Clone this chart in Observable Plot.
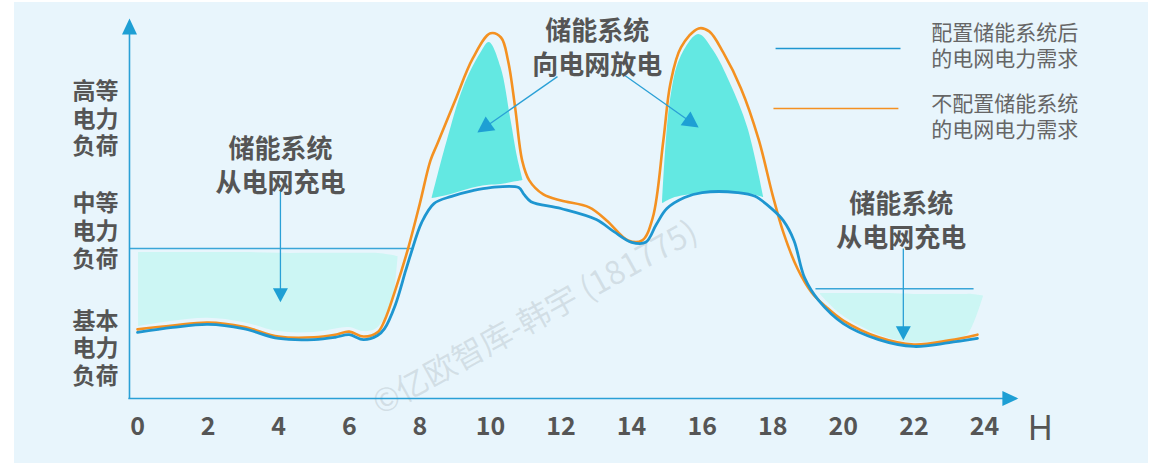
<!DOCTYPE html>
<html><head><meta charset="utf-8">
<script src="https://cdn.jsdelivr.net/npm/d3@7"></script>
<script src="https://cdn.jsdelivr.net/npm/@observablehq/plot@0.6"></script>
<style>
html,body{margin:0;padding:0;background:#fff;}
#wrap{position:relative;width:1160px;height:465px;overflow:hidden;}
#panel{position:absolute;left:14px;top:2px;width:1134px;height:461px;background:#e8f5fc;}
#chart{position:absolute;left:0;top:0;}
</style></head><body>
<div id="wrap"><div id="panel"></div><div id="chart"></div></div>
<script>
// ---------- data (load in % of axis height, hours 0-24) ----------
const xTicks = [0,2,4,6,8,10,12,14,16,18,20,22,24];
const yTickValues = [73.8, 44.3, 13.4];
const yTickLabels = ["高等\n电力\n负荷", "中等\n电力\n负荷", "基本\n电力\n负荷"];

// grid demand after storage (blue)
const blueH = [0,1,2,3,4,5,5.6,6,6.4,6.8,7.0,7.3,7.6,7.75,8.05,8.4,8.9,9.5,10,10.8,10.95,11.15,12,13,13.5,14,14.4,14.7,15,15.5,16,17,17.5,18,18.3,18.6,18.9,19.3,20,21,22,23,23.8];
const blueLoad = [17.4,18.7,19.5,18.4,15.8,15.5,16.1,16.8,15.5,16.6,18.4,24.5,33.7,38.2,46.3,51.3,53.2,54.7,55.5,55.5,53.7,51.8,50.0,47.1,43.9,41.1,41.1,45.8,50.0,52.9,54.2,54.2,53.2,49.7,46.8,41.6,31.8,25.8,19.7,15.5,13.7,14.7,15.8];

// grid demand without storage (orange)
const orangeH = [0,1,2,3,4,5,5.6,6,6.4,6.8,7.0,7.3,7.65,8.0,8.3,8.5,9.0,9.5,10.0,10.3,10.5,10.7,10.9,11.1,11.5,12,12.8,13.3,13.9,14.3,14.6,14.9,15.1,15.4,15.9,16.2,16.6,17.1,17.6,18.0,18.3,18.7,19.1,19.5,20,21,22,23,23.8];
const orangeLoad = [18.2,19.2,20.0,18.9,16.3,16.1,16.8,17.6,16.3,17.4,20.5,28.4,38.9,51.3,62.6,67.1,78.4,89.5,96.1,95.0,88.9,76.6,62.6,57.4,53.7,52.1,50.3,46.8,41.6,41.6,47.6,67.9,82.9,92.4,97.4,96.6,91.0,81.6,68.2,53.4,43.7,34.2,27.9,24.2,20.5,16.1,14.2,15.3,16.8];

// charging areas (light)
const chargeL_H  = [0.03,1,2,3,4,5,6,6.4,6.75,7.05,7.25,7.35,7.38];
const chargeL_lo = [18.9,20.3,21.1,20.0,17.6,17.4,18.7,17.6,18.2,21.8,26.6,33.7,36.8];
const chargeL_hi = [38.4,38.4,38.4,38.4,38.2,38.2,38.2,38.2,38.2,37.9,37.6,37.4,37.4];
const chargeR_H  = [19.35,19.9,20.55,21.3,22.0,22.95,23.5,23.65,23.82,23.97];
const chargeR_lo = [27.4,22.4,18.7,15.8,14.7,15.3,16.6,18.7,22.6,26.8];
const chargeR_hi = [27.6,27.6,27.6,27.6,27.4,27.4,27.4,27.4,27.2,27.0];

// discharging areas (teal)
const disL_H  = [8.35,8.78,9.24,9.72,9.97,10.3,10.57,10.77,10.92];
const disL_lo = [52.6,53.4,54.7,55.8,56.1,56.3,56.8,57.1,57.4];
const disL_hi = [52.8,67.9,81.8,90.8,93.7,87.1,73.9,63.4,57.6];
const disR_H  = [14.88,15.1,15.39,15.9,16.32,16.8,17.29,17.74];
const disR_lo = [51.3,52.4,53.2,53.9,54.2,54.2,53.9,52.9];
const disR_hi = [51.5,78.4,89.7,95.8,91.6,82.9,71.3,53.1];

// reference lines (charging thresholds)
const thresholds = [{x1:-0.227, x2:7.82, y:39.5}, {x1:19.21, x2:23.69, y:28.9}];

// annotation arrows: start (x1,y1) -> tip (x2,y2)
const arrowsData = [
  {x1:4.05,  y1:54.7, x2:4.05,  y2:25.3},
  {x1:21.7,  y1:39.5, x2:21.7,  y2:15.3},
  {x1:11.90, y1:84.7, x2:9.63,  y2:70.0},
  {x1:13.69, y1:85.8, x2:15.90, y2:71.3}
];
const axesData = [
  {x1:-0.227, y1:0, x2:-0.227, y2:100},
  {x1:-0.26,  y1:0, x2:24.96,  y2:0}
];

const annotations = [
  {x:4.05,  y:61.7, text:"储能系统\n从电网充电"},
  {x:13.03, y:92.8, text:"储能系统\n向电网放电"},
  {x:21.64, y:47.2, text:"储能系统\n从电网充电"}
];
const legendItems = [
  {x1:18.08, x2:21.62, y:92.1, tx:22.49, ty:93.2, color:"#1e96d0", text:"配置储能系统后\n的电网电力需求"},
  {x1:18.02, x2:21.56, y:76.3, tx:22.49, ty:74.5, color:"#f49121", text:"不配置储能系统\n的电网电力需求"}
];
const watermark = [{x:11.27, y:21.1, text:"©亿欧智库-韩宇 (181775)"}];
const unitLabel = [{x:25.58, y:-8.0, text:"H"}];

// ---------- build ----------
const W=1160, H=465, mL=137, mR=176, mT=18, mB=67;
const sx = d3.scaleLinear([0,24],[mL, W-mR]);
const sy = d3.scaleLinear([0,100],[H-mB, mT]);

const zip3 = (h, lo, hi) => h.map((d,i)=>({h:d, lo:lo[i], hi:hi[i]}));
const blue = blueH.map((h,i)=>({h, v:blueLoad[i]}));
const orange = orangeH.map((h,i)=>({h, v:orangeLoad[i]}));

function headGeom(a, len, wid, id) {
  const tx=sx(a.x2), ty=sy(a.y2), fx=sx(a.x1), fy=sy(a.y1);
  const d=Math.hypot(tx-fx, ty-fy), ux=(tx-fx)/d, uy=(ty-fy)/d;
  const bx=tx-ux*len, by=ty-uy*len, px=-uy, py=ux;
  const tri=[[tx,ty],[bx+px*wid/2,by+py*wid/2],[bx-px*wid/2,by-py*wid/2],[tx,ty]]
    .map(([X,Y])=>({id, x:sx.invert(X), y:sy.invert(Y)}));
  const shaft={x1:a.x1, y1:a.y1, x2:sx.invert(bx+ux*2), y2:sy.invert(by+uy*2)};
  return {tri, shaft};
}
const annHeads = arrowsData.map((a,i)=>headGeom(a, i<2?14:16, i<2?15:17, "a"+i));
const axHeads = axesData.map((a,i)=>headGeom(a, 16, 15, "x"+i));

const FONT = '"Noto Sans CJK SC", "Noto Sans", sans-serif';
const AX = "#2aa0d6";

const chart = Plot.plot({
  width: W, height: H,
  marginLeft: mL, marginRight: mR, marginTop: mT, marginBottom: mB,
  x: {domain:[0,24], axis:null},
  y: {domain:[0,100], axis:null},
  style: {background:"transparent", fontFamily: FONT, overflow:"visible"},
  marks: [
    Plot.text(watermark, {x:"x", y:"y", text:"text", rotate:-29, fontSize:32, fill:"#9aa6ad", fillOpacity:0.28}),
    Plot.areaY(zip3(chargeL_H, chargeL_lo, chargeL_hi), {x:"h", y1:"lo", y2:"hi", fill:"#ccf6f4", curve:"catmull-rom"}),
    Plot.areaY(zip3(chargeR_H, chargeR_lo, chargeR_hi), {x:"h", y1:"lo", y2:"hi", fill:"#ccf6f4", curve:"catmull-rom"}),
    Plot.areaY(zip3(disL_H, disL_lo, disL_hi), {x:"h", y1:"lo", y2:"hi", fill:"#63e8e2", curve:"catmull-rom"}),
    Plot.areaY(zip3(disR_H, disR_lo, disR_hi), {x:"h", y1:"lo", y2:"hi", fill:"#63e8e2", curve:"catmull-rom"}),
    Plot.link(thresholds, {x1:"x1", x2:"x2", y1:"y", y2:"y", stroke:"#3aa6d8", strokeWidth:1.5}),
    Plot.line(orange, {x:"h", y:"v", stroke:"#f49121", strokeWidth:2.6, curve:"catmull-rom"}),
    Plot.line(blue, {x:"h", y:"v", stroke:"#1e96d0", strokeWidth:2.8, curve:"catmull-rom"}),
    // axes lines + heads
    Plot.link(axHeads.map(d=>d.shaft), {x1:"x1", y1:"y1", x2:"x2", y2:"y2", stroke:AX, strokeWidth:1.6}),
    Plot.line(axHeads.flatMap(d=>d.tri), {x:"x", y:"y", z:"id", fill:"#1e9fd4", stroke:"none"}),
    // annotation arrows
    Plot.link(annHeads.map(d=>d.shaft), {x1:"x1", y1:"y1", x2:"x2", y2:"y2", stroke:"#2aa0d6", strokeWidth:1.3}),
    Plot.line(annHeads.flatMap(d=>d.tri), {x:"x", y:"y", z:"id", fill:"#1e9fd4", stroke:"none"}),
    Plot.axisX({ticks:xTicks, tickSize:0, tickPadding:19, fontSize:25, fontWeight:600, fill:"#555", label:null}),
    Plot.axisY({ticks:yTickValues, tickFormat:d=>yTickLabels[yTickValues.indexOf(d)], tickSize:0, tickPadding:19, fontSize:23, fontWeight:"bold", fill:"#555", label:null, lineHeight:1.2}),
    Plot.text(unitLabel, {x:"x", y:"y", text:"text", fontSize:34, fill:"#555", fontFamily:'"Noto Sans", sans-serif'}),
    Plot.text(annotations, {x:"x", y:"y", text:"text", fontSize:26, fontWeight:"bold", fill:"#555", lineHeight:1.3}),
    Plot.link(legendItems, {x1:"x1", x2:"x2", y1:"y", y2:"y", stroke:"color", strokeWidth:1.6}),
    Plot.text(legendItems, {x:"tx", y:"ty", text:"text", textAnchor:"start", fontSize:21, fill:"#666", lineHeight:1.24})
  ]
});
document.getElementById("chart").appendChild(chart);
</script>
</body></html>
